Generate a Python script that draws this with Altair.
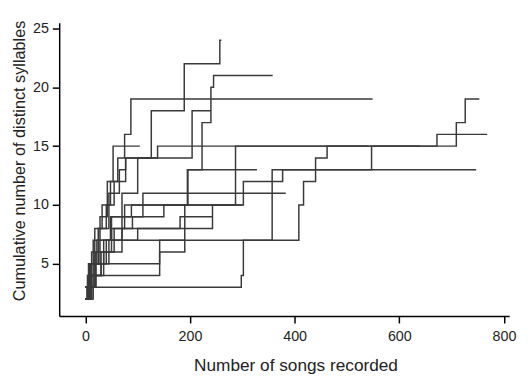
import altair as alt
import pandas as pd

# Step-wise accumulation curves (change points; last point = final song recorded)
s1_x = [0, 4, 12, 25, 40, 55, 77, 126, 189, 257, 260]
s1_y = [2, 4, 6, 8, 10, 12, 14, 18, 22, 24, 24]
s2_x = [0, 8, 22, 48, 88, 195, 223, 240, 245, 358]
s2_y = [3, 5, 7, 9, 10, 13, 17, 20, 21, 21]
s3_x = [0, 6, 18, 32, 48, 62, 75, 87, 549]
s3_y = [2, 5, 8, 10, 12, 14, 16, 19, 19]
s4_x = [0, 8, 15, 28, 42, 53, 104]
s4_y = [2, 5, 7, 9, 12, 15, 15]
s5_x = [0, 10, 25, 45, 65, 77, 138, 672, 768]
s5_y = [3, 5, 8, 11, 13, 14, 15, 16, 16]
s6_x = [0, 12, 30, 55, 90, 150, 287, 709, 726, 753]
s6_y = [2, 4, 6, 8, 9, 10, 15, 17, 19, 19]
s7_x = [0, 18, 40, 357, 747]
s7_y = [3, 5, 7, 13, 13]
s8_x = [0, 10, 142, 190, 302, 377, 547, 640]
s8_y = [2, 4, 6, 10, 12, 13, 15, 15]
s9_x = [0, 3, 298, 302, 408, 417, 440, 462, 540]
s9_y = [2, 3, 4, 7, 10, 12, 14, 15, 15]
s10_x = [0, 20, 50, 75, 196, 328]
s10_y = [3, 6, 8, 10, 13, 13]
s11_x = [0, 15, 35, 70, 110, 383]
s11_y = [2, 5, 7, 9, 11, 11]
s12_x = [0, 20, 45, 100, 181, 243]
s12_y = [3, 5, 7, 8, 9, 9]
s13_x = [0, 12, 35, 70, 243, 300]
s13_y = [2, 4, 6, 8, 10, 10]
s14_x = [0, 5, 30, 142, 190]
s14_y = [2, 4, 5, 7, 7]
s15_x = [0, 10, 28, 50, 70, 100, 204, 240]
s15_y = [3, 5, 7, 9, 11, 14, 18, 18]

series = {
    "s1": (s1_x, s1_y), "s2": (s2_x, s2_y), "s3": (s3_x, s3_y),
    "s4": (s4_x, s4_y), "s5": (s5_x, s5_y), "s6": (s6_x, s6_y),
    "s7": (s7_x, s7_y), "s8": (s8_x, s8_y), "s9": (s9_x, s9_y),
    "s10": (s10_x, s10_y), "s11": (s11_x, s11_y), "s12": (s12_x, s12_y),
    "s13": (s13_x, s13_y), "s14": (s14_x, s14_y), "s15": (s15_x, s15_y),
}

rows = []
for name, (xs, ys) in series.items():
    for x, y in zip(xs, ys):
        rows.append({"bird": name, "songs": x, "syllables": y})
df = pd.DataFrame(rows)

FONT = "Liberation Sans"

chart = alt.Chart(df).mark_line(
    interpolate="step-after", color="#3a3a3a", strokeWidth=1.5
).encode(
    x=alt.X("songs:Q",
            scale=alt.Scale(domain=[-50, 810], nice=False, zero=False),
            axis=alt.Axis(values=[0, 200, 400, 600, 800], title="Number of songs recorded",
                          labelPadding=7, titlePadding=14, titleX=240)),
    y=alt.Y("syllables:Q",
            scale=alt.Scale(domain=[0.55, 25.5], nice=False, zero=False),
            axis=alt.Axis(values=[5, 10, 15, 20, 25],
                          title="Cumulative number of distinct syllables",
                          titleFontSize=16.5, titlePadding=5, titleY=140)),
    detail="bird:N",
).properties(
    width=457, height=298,
    autosize=alt.AutoSizeParams(type="none"),
    padding={"left": 52, "top": 12, "right": 11, "bottom": 59},
).configure_view(stroke=None).configure_axis(
    grid=False,
    domainColor="black", domainWidth=1.5,
    tickColor="black", tickWidth=1.5, tickSize=7,
    labelFont=FONT, labelFontSize=14.5, labelColor="#222222", labelPadding=4,
    titleFont=FONT, titleFontSize=17.5, titleFontWeight="normal", titleColor="#222222",
)

chart.save("out.html", embed_options={"renderer": "svg", "actions": False})
